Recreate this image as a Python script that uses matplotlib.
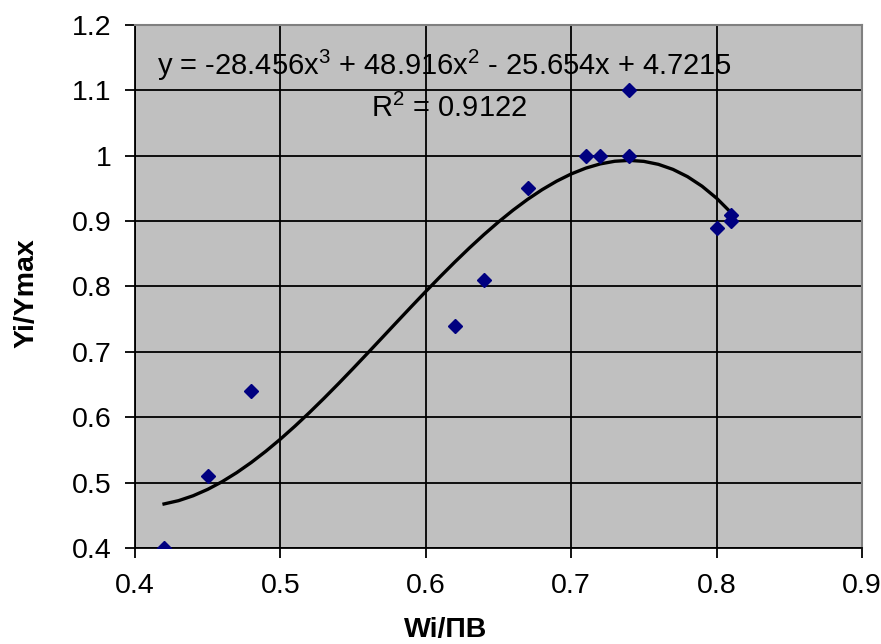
import matplotlib.pyplot as plt
import numpy as np

# datos
wi_pv = [0.42, 0.45, 0.48, 0.62, 0.64, 0.67, 0.71, 0.72, 0.74, 0.74, 0.80, 0.81, 0.81]
yi_ymax = [0.40, 0.51, 0.64, 0.74, 0.81, 0.95, 1.00, 1.00, 1.10, 1.00, 0.89, 0.91, 0.90]

# linea de tendencia polinomica (coeficientes de la etiqueta)
coef = [-28.456, 48.916, -25.654, 4.7215]
r2 = 0.9122

xticks = [0.4, 0.5, 0.6, 0.7, 0.8, 0.9]
yticks = [0.4, 0.5, 0.6, 0.7, 0.8, 0.9, 1.0, 1.1, 1.2]

plt.rcParams['font.family'] = ['Liberation Sans', 'DejaVu Sans']
plt.rcParams['mathtext.fontset'] = 'custom'
plt.rcParams['mathtext.rm'] = 'Liberation Sans'

fig = plt.figure(figsize=(8.81, 6.44), dpi=100)
ax = fig.add_axes([0.1532, 0.1491, 0.8252, 0.8121])
ax.set_facecolor("#C0C0C0")

xt = np.linspace(min(wi_pv), max(wi_pv), 40)
ax.plot(xt, np.polyval(coef, xt), c="black", lw=2.4, zorder=3)
ax.plot(wi_pv, yi_ymax, linestyle="none", marker="D", ms=7.5, c="#000080", zorder=4)

ax.set_xlim(0.4, 0.9)
ax.set_ylim(0.4, 1.2)
ax.set_xticks(xticks)
ax.set_yticks(yticks)
ax.set_xticklabels(["%g" % v for v in xticks])
ax.set_yticklabels(["%g" % v for v in yticks])
ax.tick_params(direction="out", length=7, width=1.3, labelsize=20.5, color="black")
ax.tick_params(axis="x", pad=11)
ax.tick_params(axis="y", pad=10)

ax.grid(True, color="black", lw=1.3)
ax.set_axisbelow(True)
for s in ["left", "bottom"]:
    ax.spines[s].set_color("black")
    ax.spines[s].set_linewidth(1.3)
for s in ["top", "right"]:
    ax.spines[s].set_color("#808080")
    ax.spines[s].set_linewidth(1.5)

eq = "y = %gx$^3$ + %gx$^2$ - %gx + %g" % (coef[0], coef[1], -coef[2], coef[3])
ax.text(0.03, 0.922, eq, transform=ax.transAxes, fontsize=21, va="center", ha="left")
ax.text(0.324, 0.84, "R$^2$ = %g" % r2, transform=ax.transAxes, fontsize=21, va="center", ha="left")

fig.text(0.506, 0.002, "Wi/ПВ", fontsize=20.5, fontweight="bold", ha="center", va="bottom")
fig.text(0.03, 0.545, "Yi/Ymax", fontsize=20.5, fontweight="bold", rotation=90, ha="center", va="center")

plt.savefig("out.png", dpi=100)
